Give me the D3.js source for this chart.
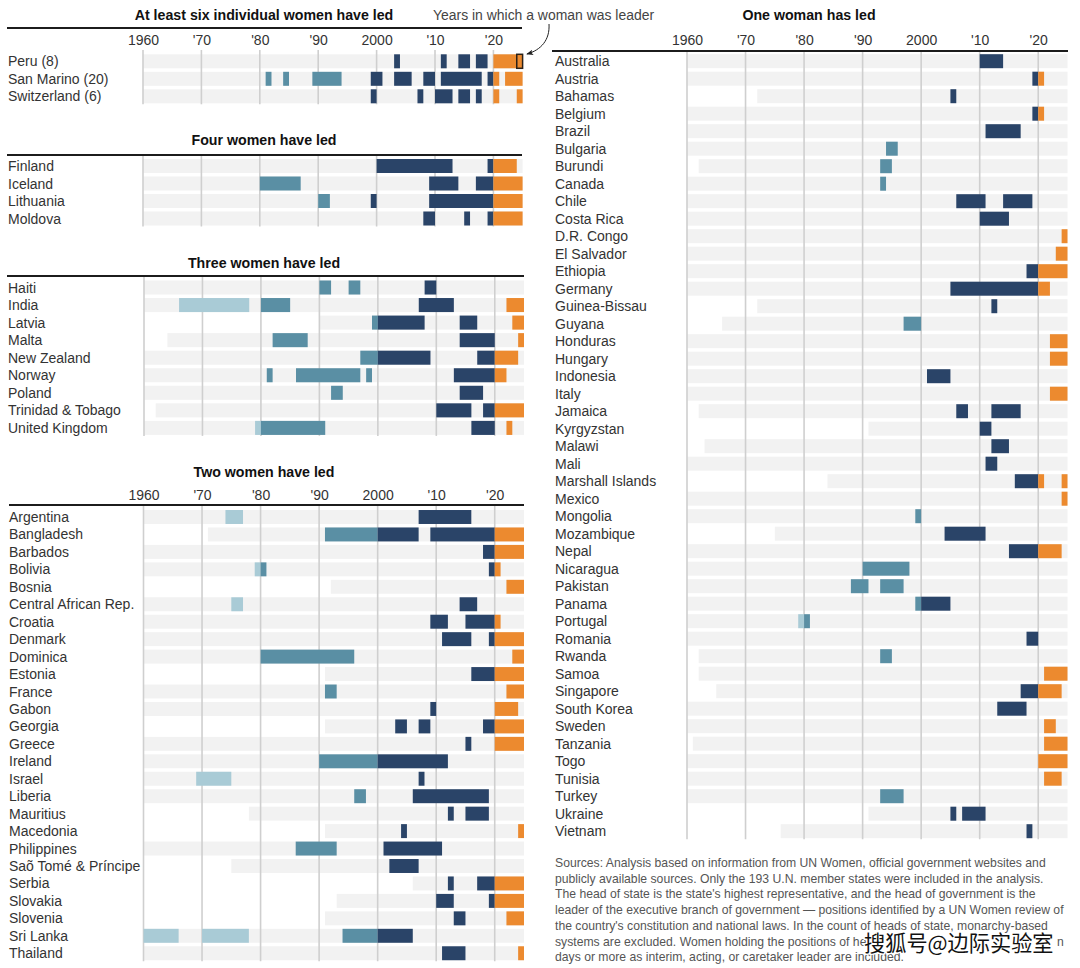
<!DOCTYPE html>
<html><head><meta charset="utf-8">
<script src="https://cdn.jsdelivr.net/npm/d3@7"></script>
<style>
html,body{margin:0;padding:0;background:#fff}
svg{display:block}
text{font-family:"Liberation Sans",Roboto,sans-serif}
</style></head><body>
<div id="chart"></div>
<script>
// ---------- DATA (years) ----------
const tickYears = [1960,1970,1980,1990,2000,2010,2020];
const tickLabels = ["1960","'70","'80","'90","2000","'10","'20"];
const lastYear = 2025;
const eraBreaks = [1980,2000,2020];

const sixTitle = "At least six individual women have led";
const sixNames = ["Peru (8)","San Marino (20)","Switzerland (6)"];
const sixFirst = [1960,1960,1960];
const sixSpans = [
 [[2003,2004],[2011,2012],[2014,2016],[2017,2019],[2020,2025]],
 [[1981,1982],[1984,1985],[1989,1994],[1999,2001,2],[2003,2006],[2008,2010],[2011,2018],[2019,2020],[2020,2021],[2022,2025]],
 [[1999,2000,2],[2007,2008],[2010,2013],[2014,2016],[2017,2018],[2020,2021],[2024,2025]]
];
const highlightSpan = [2024,2025];

const fourTitle = "Four women have led";
const fourNames = ["Finland","Iceland","Lithuania","Moldova"];
const fourFirst = [1960,1960,1960,1960];
const fourSpans = [
 [[2000,2013],[2019,2024]],
 [[1980,1987],[2009,2014],[2017,2025]],
 [[1990,1992],[1999,2000,2],[2009,2025]],
 [[2008,2010],[2015,2016],[2019,2025]]
];

const threeTitle = "Three women have led";
const threeNames = ["Haiti","India","Latvia","Malta","New Zealand","Norway","Poland","Trinidad & Tobago","United Kingdom"];
const threeFirst = [1960,1960,1990,1964,1960,1960,1960,1962,1960];
const threeSpans = [
 [[1990,1992],[1995,1997],[2008,2010]],
 [[1966,1978],[1980,1985],[2007,2013],[2022,2025]],
 [[1999,2008],[2014,2017],[2023,2025]],
 [[1982,1988],[2014,2020],[2024,2025]],
 [[1997,2009],[2017,2024]],
 [[1981,1982],[1986,1997],[1998,1999],[2013,2022]],
 [[1992,1994],[2014,2018]],
 [[2010,2016],[2018,2025]],
 [[1979,1991],[2016,2020],[2022,2023]]
];

const twoTitle = "Two women have led";
const twoNames = ["Argentina","Bangladesh","Barbados","Bolivia","Bosnia","Central African Rep.","Croatia","Denmark","Dominica","Estonia","France","Gabon","Georgia","Greece","Ireland","Israel","Liberia","Mauritius","Macedonia","Philippines","Saõ Tomé & Príncipe","Serbia","Slovakia","Slovenia","Sri Lanka","Thailand"];
const twoFirst = [1960,1971,1960,1960,1992,1960,1960,1960,1960,1991,1960,1960,1991,1960,1960,1960,1960,1978,1991,1960,1975,2006,1993,1991,1960,1960];
const twoSpans = [
 [[1974,1977],[2007,2016]],
 [[1991,2007],[2009,2025]],
 [[2018,2025]],
 [[1979,1981],[2019,2021]],
 [[2022,2025]],
 [[1975,1977],[2014,2017]],
 [[2009,2012],[2015,2021]],
 [[2011,2016],[2019,2025]],
 [[1980,1996],[2023,2025]],
 [[2016,2025]],
 [[1991,1993],[2022,2025]],
 [[2009,2010],[2020,2024]],
 [[2003,2005],[2007,2009],[2018,2025]],
 [[2015,2016],[2020,2025]],
 [[1990,2012]],
 [[1969,1975],[2007,2008]],
 [[1996,1998],[2006,2019]],
 [[2012,2013],[2015,2019]],
 [[2004,2005],[2024,2025]],
 [[1986,1993],[2001,2011]],
 [[2002,2007]],
 [[2012,2013],[2017,2025]],
 [[2010,2013],[2019,2025]],
 [[2013,2015],[2022,2025]],
 [[1960,1966],[1970,1978],[1994,2006]],
 [[2011,2015],[2024,2025]]
];

const oneTitle = "One woman has led";
const oneNames = ["Australia","Austria","Bahamas","Belgium","Brazil","Bulgaria","Burundi","Canada","Chile","Costa Rica","D.R. Congo","El Salvador","Ethiopia","Germany","Guinea-Bissau","Guyana","Honduras","Hungary","Indonesia","Italy","Jamaica","Kyrgyzstan","Malawi","Mali","Marshall Islands","Mexico","Mongolia","Mozambique","Nepal","Nicaragua","Pakistan","Panama","Portugal","Romania","Rwanda","Samoa","Singapore","South Korea","Sweden","Tanzania","Togo","Tunisia","Turkey","Ukraine","Vietnam"];
const oneFirst = [1960,1960,1972,1960,1960,1960,1962,1960,1960,1960,1960,1960,1960,1960,1972,1966,1960,1960,1960,1960,1962,1991,1963,1960,1984,1960,1960,1975,1960,1960,1960,1960,1960,1960,1962,1962,1965,1960,1960,1961,1960,1960,1960,1991,1976];
const oneSpans = [
 [[2010,2014]],[[2019,2021]],[[2005,2006]],[[2019,2021]],[[2011,2017]],
 [[1994,1996]],[[1993,1995]],[[1993,1994]],[[2006,2011],[2014,2019]],[[2010,2015]],
 [[2024,2025]],[[2023,2025]],[[2018,2025]],[[2005,2022]],[[2012,2013]],
 [[1997,2000]],[[2022,2025]],[[2022,2025]],[[2001,2005]],[[2022,2025]],
 [[2006,2008],[2012,2017]],[[2010,2012]],[[2012,2015]],[[2011,2013]],[[2016,2021],[2024,2025]],
 [[2024,2025]],[[1999,2000]],[[2004,2011]],[[2015,2024]],[[1990,1998]],
 [[1988,1991],[1993,1997]],[[1999,2005]],[[1979,1981]],[[2018,2020]],[[1993,1995]],
 [[2021,2025]],[[2017,2024]],[[2013,2018]],[[2021,2023]],[[2021,2025]],
 [[2020,2025]],[[2021,2024]],[[1993,1997]],[[2005,2006],[2007,2011]],[[2018,2019]]
];

const annotationText = "Years in which a woman was leader";
const sourceLines = [
 "Sources: Analysis based on information from UN Women, official government websites and",
 "publicly available sources. Only the 193 U.N. member states were included in the analysis.",
 "The head of state is the state's highest representative, and the head of government is the",
 "leader of the executive branch of government — positions identified by a UN Women review of",
 "the country's constitution and national laws. In the count of heads of state, monarchy-based",
 "systems are excluded. Women holding the positions of he",
 "days or more as interim, acting, or caretaker leader are included."
];
const watermark = "搜狐号@边际实验室";

// ---------- STYLE ----------
const eraColors = ["#a9cbd6","#5a8fa4","#2a4468","#ec8a2f"];
const W=1080,H=968;
const svg=d3.select("#chart").append("svg").attr("width",W).attr("height",H);
const defs=svg.append("defs");
defs.append("marker").attr("id","ah").attr("viewBox","0 0 8 8").attr("refX",7).attr("refY",4)
 .attr("markerWidth",7).attr("markerHeight",7).attr("orient","auto")
 .append("path").attr("d","M0,0.8L8,4L0,7.2L1.8,4Z").attr("fill","#222");

function eraOf(y){return d3.bisectRight(eraBreaks,y);}
function splitSpan(s){
  if(s.length===3) return [{a:s[0],b:s[1],e:s[2]}];
  const cuts=[s[0],...eraBreaks.filter(v=>v>s[0]&&v<s[1]),s[1]];
  return d3.pairs(cuts).map(([a,b])=>({a,b,e:eraOf(a)}));
}

function panel(o){
  const g=svg.append("g");
  const x=d3.scaleLinear().domain([tickYears[0],lastYear]).range([o.x0,o.x1]);
  const band=o.pitch, n=o.names.length;
  const y=d3.scaleBand().domain(o.names)
    .range([o.first-band/2,o.first-band/2+band*n]).paddingInner(o.pad).paddingOuter(o.pad/2);
  // title
  g.append("text").attr("x",o.titleX).attr("y",o.titleY).attr("text-anchor","middle")
   .attr("font-size",14.2).attr("font-weight",700).attr("fill","#111").text(o.title);
  // rule
  g.append("line").attr("x1",o.ruleX0).attr("x2",o.ruleX1).attr("y1",o.ruleY).attr("y2",o.ruleY)
   .attr("stroke","#1c1c1c").attr("stroke-width",2.2);
  // background rows
  g.append("g").selectAll("rect").data(o.names).join("rect")
   .attr("x",(d,i)=>x(o.firstYears[i])).attr("width",(d,i)=>x(lastYear)-x(o.firstYears[i]))
   .attr("y",d=>y(d)).attr("height",y.bandwidth()).attr("fill","#f2f2f2");
  // grid
  g.selectAll("line.grid").data(tickYears).join("line").attr("class","grid")
   .attr("x1",d=>x(d)).attr("x2",d=>x(d))
   .attr("y1",o.gridTop).attr("y2",y(o.names[n-1])+y.bandwidth()+1)
   .attr("stroke","#cfcfcf").attr("stroke-width",1.6);
  // spans drawn above the grid
  const spanRows=g.append("g").selectAll("g").data(o.names).join("g");
  spanRows.each(function(name,i){
    d3.select(this).selectAll("rect").data(o.spans[i].flatMap(splitSpan)).join("rect")
      .attr("x",d=>x(d.a)).attr("width",d=>x(d.b)-x(d.a))
      .attr("y",y(name)).attr("height",y.bandwidth())
      .attr("fill",d=>eraColors[d.e]);
  });
  // row labels
  g.selectAll("text.lab").data(o.names).join("text").attr("class","lab")
   .attr("x",o.labelX).attr("y",d=>y(d)+y.bandwidth()/2).attr("dy","0.36em")
   .attr("font-size",14).attr("fill","#333").text(d=>d);
  // axis
  if(o.tickY!=null){
    const ax=d3.axisTop(x).tickValues(tickYears).tickFormat((d,i)=>tickLabels[i]).tickSize(0).tickPadding(0);
    const a=g.append("g").attr("transform",`translate(0,${o.tickY})`).call(ax);
    a.select(".domain").remove();
    a.selectAll("text").attr("font-size",14).attr("fill","#333").attr("font-family",'"Liberation Sans",sans-serif');
  }
  return {x,y};
}

const L={x0:143,x1:522.6,ruleX0:7,ruleX1:522,titleX:264,labelX:8,pad:0.2};
const P1=panel({...L,title:sixTitle,names:sixNames,firstYears:sixFirst,spans:sixSpans,titleY:20,ruleY:28,tickY:45,first:61.3,pitch:17.5,gridTop:50});
panel({...L,title:fourTitle,names:fourNames,firstYears:fourFirst,spans:fourSpans,titleY:145,ruleY:155,first:166,pitch:17.5,gridTop:156});
panel({...L,title:threeTitle,names:threeNames,firstYears:threeFirst,spans:threeSpans,titleY:268,ruleY:276,first:287.5,pitch:17.55,gridTop:277,x0:144,x1:524,ruleX1:524});
panel({...L,title:twoTitle,names:twoNames,firstYears:twoFirst,spans:twoSpans,titleY:477,ruleY:505,tickY:500,first:517,pitch:17.45,gridTop:506,x0:143.5,x1:524,ruleX0:9,ruleX1:524,labelX:9});
panel({title:oneTitle,names:oneNames,firstYears:oneFirst,spans:oneSpans,titleY:20,titleX:809,ruleX0:552,ruleX1:1068,ruleY:51,tickY:45,first:61.2,pitch:17.5,gridTop:52,x0:687,x1:1067.5,labelX:555,pad:0.2});

// highlight box on Peru's latest span
svg.append("rect").attr("x",P1.x(highlightSpan[0])).attr("width",P1.x(highlightSpan[1])-P1.x(highlightSpan[0]))
 .attr("y",P1.y(sixNames[0])).attr("height",P1.y.bandwidth())
 .attr("fill","none").attr("stroke","#2b2118").attr("stroke-width",1.5);

// annotation
svg.append("text").attr("x",433).attr("y",20).attr("font-size",13.95).attr("fill","#444").text(annotationText);
svg.append("path").attr("d","M549,24 C550,40 541,50 527,54").attr("fill","none").attr("stroke","#222").attr("stroke-width",1).attr("marker-end","url(#ah)");

// sources
svg.append("g").selectAll("text").data(sourceLines).join("text")
 .attr("x",555).attr("y",(d,i)=>867+i*15.7).attr("font-size",12.2).attr("fill","#555").text(d=>d);
// trailing legible letter of the masked line
svg.append("text").attr("x",1057).attr("y",867+5*15.7).attr("font-size",12.2).attr("fill","#555").text("n");

// watermark
svg.append("text").attr("x",864).attr("y",951).attr("font-size",21.2)
 .style("font-family",'"Noto Sans CJK SC",sans-serif').attr("fill","#111")
 .attr("stroke","#fff").attr("stroke-width",2.8).attr("paint-order","stroke").text(watermark);
</script>
</body></html>
